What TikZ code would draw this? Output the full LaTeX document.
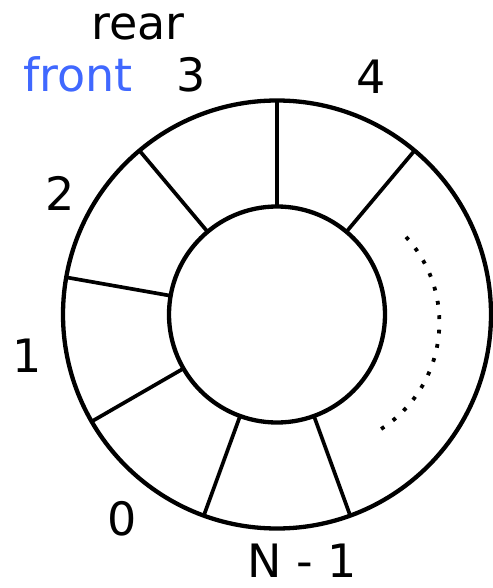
\documentclass[tikz,border=0pt]{standalone}
\usepackage{fontspec}
\setmainfont{DejaVu Sans}
\usetikzlibrary{calc}
\definecolor{frontblue}{RGB}{64,104,255}
\tikzset{
  ring/.style={line width=4.3pt},
  spoke/.style={line width=3.7pt},
  lbl/.style={anchor=base, inner sep=0pt, font=\fontsize{46}{50}\selectfont},
  dots/.style={line width=3.8pt, dash pattern=on 3.8pt off 10.65pt}
}
\begin{document}
\begin{tikzpicture}[x=1pt,y=1pt]
\useasboundingbox (0,0) rectangle (492,-588);
\coordinate (c) at (277,-314.5);
\coordinate (dc) at (313,-322.5);
% rings
\draw[ring] (c) circle (214);
\draw[ring] (c) circle (108);
% spokes
\foreach \a [count=\i] in {50,90,130,170,210,250,290} {
  \coordinate (in\i) at ($(c)+(\a:108)$);
  \coordinate (out\i) at ($(c)+(\a:214)$);
  \draw[spoke] (in\i) -- (out\i);
}
% dotted arc
\draw[dots] ($(dc)+(42.6:126.4)$) arc[start angle=42.6, end angle=-57.4, radius=126.4];
% labels
\node[lbl] (rear) at (138,-40) {rear};
\node[lbl, text=frontblue] (front) at (78,-92) {front};
\node[lbl] (l3) at (191,-92) {3};
\node[lbl] (l4) at (371,-94) {4};
\node[lbl] (l2) at (60,-210) {2};
\node[lbl] (l1) at (27,-372) {1};
\node[lbl] (l0) at (122,-535) {0};
\node[lbl] (lN) at (302,-577) {N - 1};
\end{tikzpicture}
\end{document}
